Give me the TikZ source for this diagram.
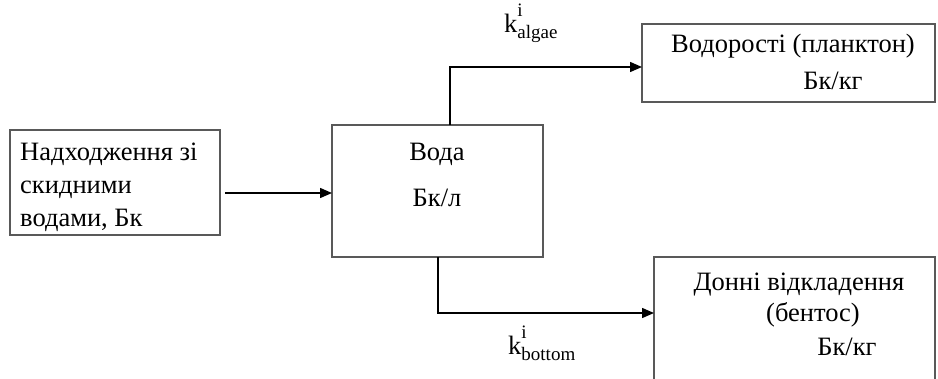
\documentclass[tikz,border=0pt]{standalone}
\usepackage{fontspec}
\setmainfont{Liberation Serif}
\usetikzlibrary{arrows.meta}
\newcommand{\kfac}[1]{k\makebox[0pt][l]{\raisebox{0.6em}{\fontsize{19}{19}\selectfont i}}{\raisebox{-0.25em}{\fontsize{19}{19}\selectfont #1}}}
\begin{document}
\begin{tikzpicture}[x=1pt,y=-1pt,
  box/.style={draw=black!65,line width=1.8pt},
  conn/.style={draw=black,line width=1.5pt,-{Triangle[length=12pt,width=10pt]}},
  txt/.style={inner sep=0pt,font=\fontsize{26.5}{26.5}\selectfont}]
\useasboundingbox (0,0) rectangle (938,378);
% boxes
\draw[box] (10,130) rectangle (220,235);
\draw[box] (332,125) rectangle (543,257);
\draw[box] (642,24) rectangle (935,102);
\draw[box] (654,257) rectangle (935,380);
\coordinate (inS) at (225,193);
\coordinate (inE) at (332,193);
\coordinate (topS) at (450,125);
\coordinate (topC) at (450,67);
\coordinate (topE) at (642,67);
\coordinate (botS) at (438,257);
\coordinate (botC) at (438,313);
\coordinate (botE) at (654,313);
\draw[conn] (inS) -- (inE);
\draw[conn] (topS) -- (topC) -- (topE);
\draw[conn] (botS) -- (botC) -- (botE);
% texts
\node[txt,anchor=base west] (t1) at (20,160) {Надходження зі};
\node[txt,anchor=base west] (t2) at (20,193) {скидними};
\node[txt,anchor=base west] (t3) at (20,226) {водами, Бк};
\node[txt,anchor=base] (w1) at (437,160) {Вода};
\node[txt,anchor=base] (w2) at (437,206) {Бк/л};
\node[txt,anchor=base] (a1) at (793,52) {Водорості (планктон)};
\node[txt,anchor=base] (a2) at (833,89) {Бк/кг};
\node[txt,anchor=base] (b1) at (799,290) {Донні відкладення};
\node[txt,anchor=base] (b2) at (813,321) {(бентос)};
\node[txt,anchor=base] (b3) at (847,355) {Бк/кг};
\node[txt,anchor=base west] (ka) at (504,32) {\kfac{algae}};
\node[txt,anchor=base west] (kb) at (508,354) {\kfac{bottom}};
\end{tikzpicture}
\end{document}
